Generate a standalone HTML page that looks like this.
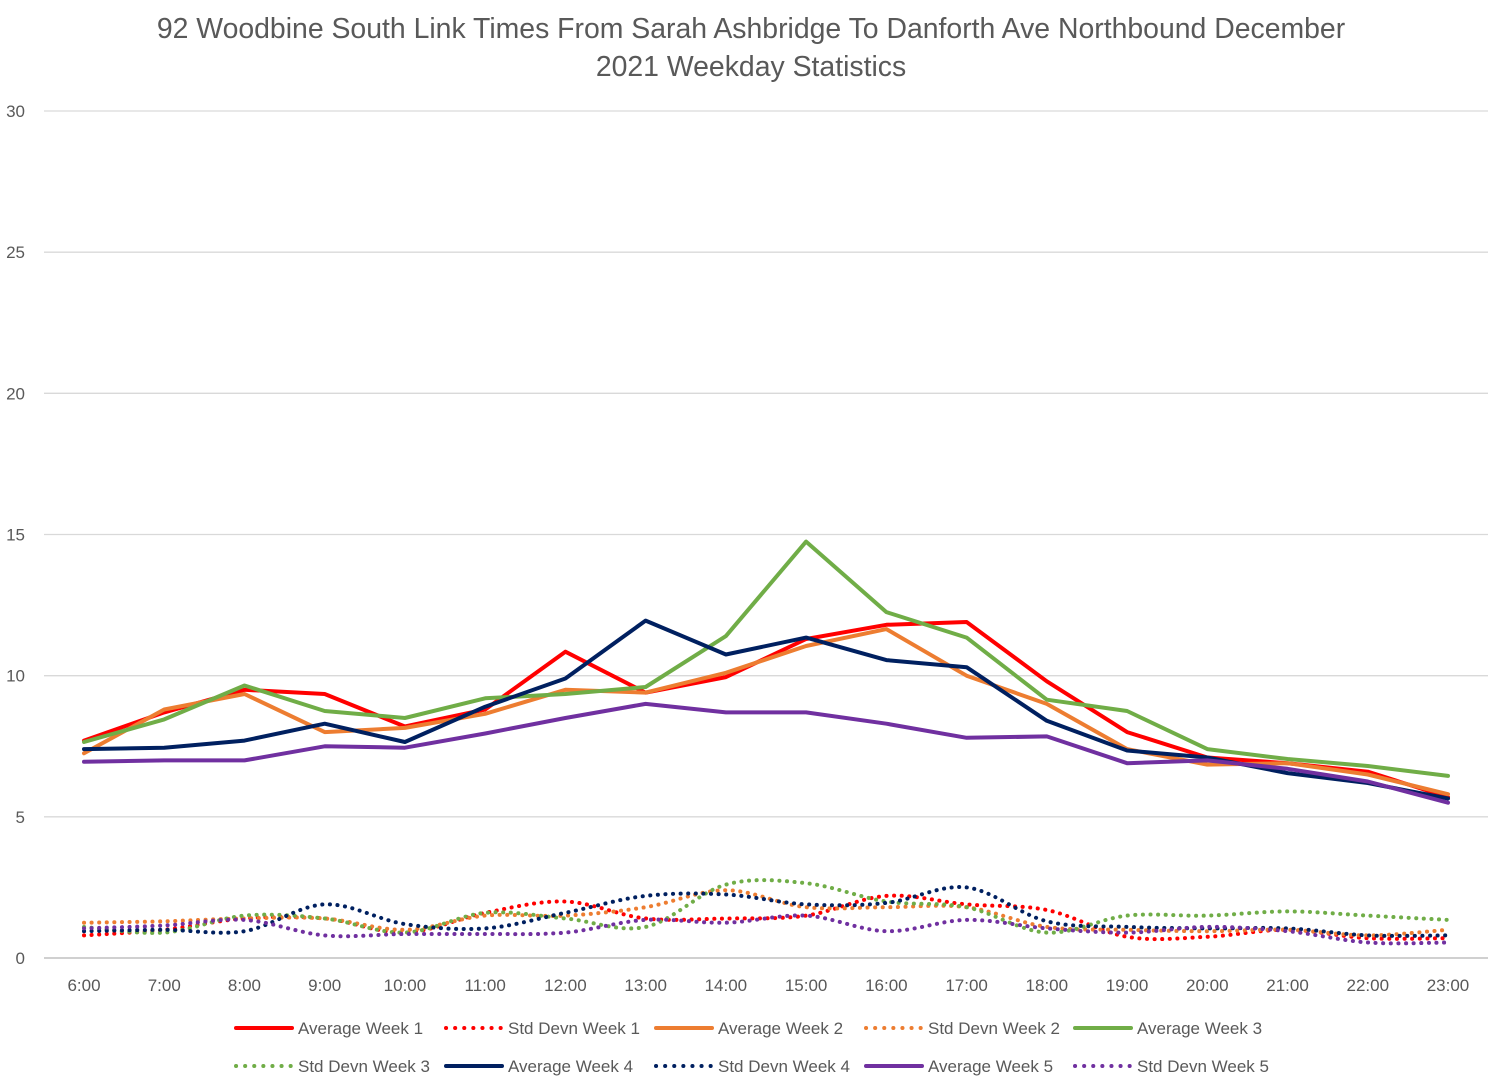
<!DOCTYPE html>
<html><head><meta charset="utf-8">
<style>
html,body{margin:0;padding:0;background:#fff;}
svg{display:block;font-family:"Liberation Sans",sans-serif;}
</style></head>
<body>
<svg id="chart" width="1494" height="1091" viewBox="0 0 1494 1091">
<text x="751" y="38" text-anchor="middle" font-size="28.4" fill="#595959">92 Woodbine South Link Times From Sarah Ashbridge To Danforth Ave Northbound December</text>
<text x="751" y="76" text-anchor="middle" font-size="28.4" fill="#595959">2021 Weekday Statistics</text>
<g id="grid"></g><g id="axes"></g><g id="series"></g><g id="legend"></g>
</svg>
<script>
const categories=["6:00","7:00","8:00","9:00","10:00","11:00","12:00","13:00","14:00","15:00","16:00","17:00","18:00","19:00","20:00","21:00","22:00","23:00"];
const yTicks=[0,5,10,15,20,25,30];
const avgW1=[7.7,8.7,9.5,9.35,8.2,8.8,10.85,9.4,9.95,11.3,11.8,11.9,9.8,8.0,7.1,6.9,6.6,5.7];
const avgW2=[7.25,8.8,9.35,8.0,8.15,8.65,9.5,9.4,10.1,11.05,11.65,10.0,9.0,7.4,6.85,6.9,6.5,5.8];
const avgW3=[7.65,8.45,9.65,8.75,8.5,9.2,9.35,9.6,11.4,14.75,12.25,11.35,9.15,8.75,7.4,7.05,6.8,6.45];
const avgW4=[7.4,7.45,7.7,8.3,7.65,8.9,9.9,11.95,10.75,11.35,10.55,10.3,8.4,7.35,7.1,6.55,6.2,5.65];
const avgW5=[6.95,7.0,7.0,7.5,7.45,7.95,8.5,9.0,8.7,8.7,8.3,7.8,7.85,6.9,7.0,6.7,6.25,5.5];
const sdW1=[0.8,1.0,1.4,1.4,0.9,1.6,2.0,1.4,1.4,1.5,2.2,1.9,1.7,0.75,0.75,1.0,0.7,0.7];
const sdW2=[1.25,1.3,1.4,1.4,1.0,1.5,1.5,1.8,2.4,1.8,1.8,1.8,1.1,1.0,0.95,1.0,0.8,1.0];
const sdW3=[1.1,0.9,1.5,1.4,0.9,1.6,1.4,1.1,2.6,2.65,2.0,1.8,0.9,1.5,1.5,1.65,1.5,1.35];
const sdW4=[0.95,1.0,0.95,1.9,1.2,1.05,1.6,2.2,2.25,1.9,1.95,2.5,1.3,1.1,1.05,1.05,0.8,0.8];
const sdW5=[1.05,1.15,1.35,0.8,0.85,0.85,0.9,1.35,1.25,1.5,0.95,1.35,1.05,0.9,1.1,0.95,0.55,0.55];

const NS="http://www.w3.org/2000/svg";
const x0=84,x1=1448,y0=958,yTop=111;
const xS=i=>x0+i*(x1-x0)/(categories.length-1);
const yS=v=>y0-v*(y0-yTop)/30;
function mk(tag,attrs,parent){const e=document.createElementNS(NS,tag);for(const k in attrs)e.setAttribute(k,attrs[k]);parent.appendChild(e);return e;}
const grid=document.getElementById('grid'),axes=document.getElementById('axes'),ser=document.getElementById('series'),leg=document.getElementById('legend');
yTicks.forEach(t=>{
  const l=mk('line',{x1:44,x2:1488,y1:yS(t),y2:yS(t),stroke:t===0?'#d0d0d0':'#d9d9d9','stroke-width':t===0?2:1.3},grid);
  
  
  const tx=mk('text',{x:25,y:yS(t)+6,'text-anchor':'end','font-size':17,fill:'#595959'},axes);
  tx.textContent=t;
  
  
});
categories.forEach((c,i)=>{
  const tx=mk('text',{x:xS(i),y:991,'text-anchor':'middle','font-size':17,fill:'#595959'},axes);
  tx.textContent=c;
  
  
});
function straight(d){return d.map((v,i)=>(i?'L':'M')+xS(i).toFixed(1)+','+yS(v).toFixed(1)).join('');}
function smooth(d){
  const p=d.map((v,i)=>[xS(i),yS(v)]);let s='M'+p[0][0]+','+p[0][1];
  for(let i=0;i<p.length-1;i++){
    const a=p[Math.max(0,i-1)],b=p[i],c=p[i+1],e=p[Math.min(p.length-1,i+2)];
    const c1=[b[0]+(c[0]-a[0])/6,b[1]+(c[1]-a[1])/6],c2=[c[0]-(e[0]-b[0])/6,c[1]-(e[1]-b[1])/6];
    s+='C'+c1[0].toFixed(1)+','+c1[1].toFixed(1)+' '+c2[0].toFixed(1)+','+c2[1].toFixed(1)+' '+c[0].toFixed(1)+','+c[1].toFixed(1);
  }return s;}
const defs=[
 {d:sdW1,c:'#ff0000',dot:true,n:'Std Devn Week 1'},
 {d:sdW2,c:'#ed7d31',dot:true,n:'Std Devn Week 2'},
 {d:sdW3,c:'#70ad47',dot:true,n:'Std Devn Week 3'},
 {d:sdW4,c:'#002060',dot:true,n:'Std Devn Week 4'},
 {d:sdW5,c:'#7030a0',dot:true,n:'Std Devn Week 5'},
 {d:avgW1,c:'#ff0000',dot:false,n:'Average Week 1'},
 {d:avgW2,c:'#ed7d31',dot:false,n:'Average Week 2'},
 {d:avgW3,c:'#70ad47',dot:false,n:'Average Week 3'},
 {d:avgW4,c:'#002060',dot:false,n:'Average Week 4'},
 {d:avgW5,c:'#7030a0',dot:false,n:'Average Week 5'}];
defs.forEach(s=>{
  const a={d:s.dot?smooth(s.d):straight(s.d),fill:'none',stroke:s.c,'stroke-width':4,'stroke-linejoin':'round','stroke-linecap':'round'};
  if(s.dot){a['stroke-dasharray']='0.1 7.5';}
  const p=mk('path',a,ser);
  
  
});
const legendOrder=['Average Week 1','Std Devn Week 1','Average Week 2','Std Devn Week 2','Average Week 3','Std Devn Week 3','Average Week 4','Std Devn Week 4','Average Week 5','Std Devn Week 5'];
const colX=[234,444,654,864,1073];
legendOrder.forEach((n,i)=>{
  const s=defs.find(d=>d.n===n);const row=Math.floor(i/5),col=i%5;
  const y=row?1066:1028,x=colX[col];
  const g=mk('g',{},leg);
  
  
  const la={x1:x+2,x2:x+58,y1:y,y2:y,stroke:s.c,'stroke-width':4,'stroke-linecap':'round'};
  if(s.dot)la['stroke-dasharray']='0.1 9';
  mk('line',la,g);
  const t=mk('text',{x:x+64,y:y+6,'font-size':17,fill:'#595959'},g);t.textContent=n;
});
</script>
</body></html>
